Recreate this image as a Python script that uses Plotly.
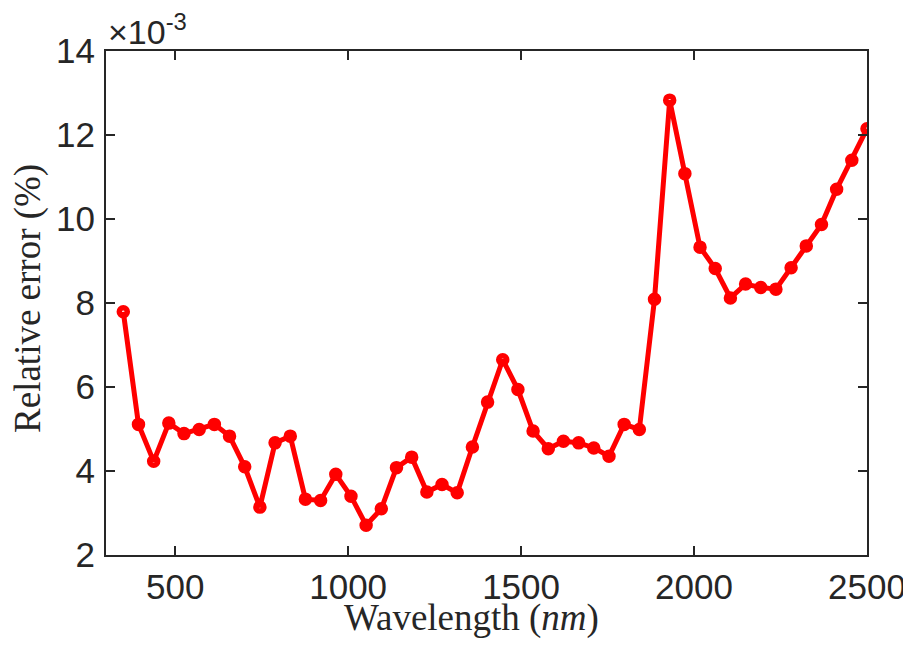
import plotly.graph_objects as go

wavelength = [350, 393.9, 437.8, 481.6, 525.5, 569.4, 613.3, 657.1, 701.0, 744.9,
              788.8, 832.7, 876.5, 920.4, 964.3, 1008.2, 1052.0, 1095.9, 1139.8, 1183.7,
              1227.6, 1271.4, 1315.3, 1359.2, 1403.1, 1446.9, 1490.8, 1534.7, 1578.6, 1622.4,
              1666.3, 1710.2, 1754.1, 1798.0, 1841.8, 1885.7, 1929.6, 1973.5, 2017.3, 2061.2,
              2105.1, 2149.0, 2192.9, 2236.7, 2280.6, 2324.5, 2368.4, 2412.2, 2456.1, 2500]
rel_error_e3 = [7.79, 5.11, 4.23, 5.14, 4.89, 4.99, 5.11, 4.83, 4.10, 3.14,
                4.67, 4.83, 3.33, 3.30, 3.92, 3.40, 2.71, 3.10, 4.08, 4.33,
                3.50, 3.68, 3.48, 4.57, 5.64, 6.65, 5.94, 4.95, 4.53, 4.71,
                4.67, 4.55, 4.35, 5.11, 4.99, 8.09, 12.83, 11.08, 9.33, 8.82,
                8.12, 8.45, 8.37, 8.33, 8.84, 9.36, 9.87, 10.71, 11.40, 12.15]
x_ticks = [500, 1000, 1500, 2000, 2500]
y_ticks = [2, 4, 6, 8, 10, 12, 14]

axis_color = "#262626"
tick_font = dict(family="Liberation Sans, Arial", size=35, color=axis_color)
serif = "Liberation Serif, Times New Roman, serif"

fig = go.Figure()
fig.add_trace(go.Scatter(
    x=wavelength, y=rel_error_e3, mode="lines+markers",
    line=dict(color="#ff0000", width=5),
    marker=dict(symbol="circle-open", size=8, color="#ff0000",
                line=dict(color="#ff0000", width=5.5)),
    showlegend=False,
))

axis_common = dict(
    showline=True, linecolor=axis_color, linewidth=2, mirror="ticks",
    ticks="inside", ticklen=9, tickwidth=2, tickcolor=axis_color,
    showgrid=False, zeroline=False, tickfont=tick_font, automargin=False,
)
fig.update_xaxes(range=[300, 2500], tickvals=x_ticks, ticklabelstandoff=0, **axis_common)
fig.update_yaxes(range=[2, 14], tickvals=y_ticks, ticklabelstandoff=2, **axis_common)

# page body adds an 8px offset, so the figure is 8px smaller than the window
fig.update_layout(
    width=903, height=643,
    margin=dict(l=98, r=44, t=43, b=96),
    paper_bgcolor="white", plot_bgcolor="white",
    annotations=[
        dict(text="Wavelength (<i>nm</i>)", xref="paper", yref="paper",
             x=0.48, y=0, yshift=-63, xanchor="center", yanchor="middle",
             showarrow=False, font=dict(family=serif, size=37, color=axis_color)),
        dict(text="Relative error (%)", xref="paper", yref="paper",
             x=-0.1025, y=0.51, xanchor="center", yanchor="middle", textangle=-90,
             showarrow=False, font=dict(family=serif, size=37, color=axis_color)),
        dict(text="×10<sup>-3</sup>", xref="paper", yref="paper",
             x=0, y=1, xshift=0, yshift=-2, xanchor="left", yanchor="bottom",
             showarrow=False, font=dict(family="Liberation Sans, Arial", size=34, color=axis_color)),
    ],
)

fig.write_html("out.html")
